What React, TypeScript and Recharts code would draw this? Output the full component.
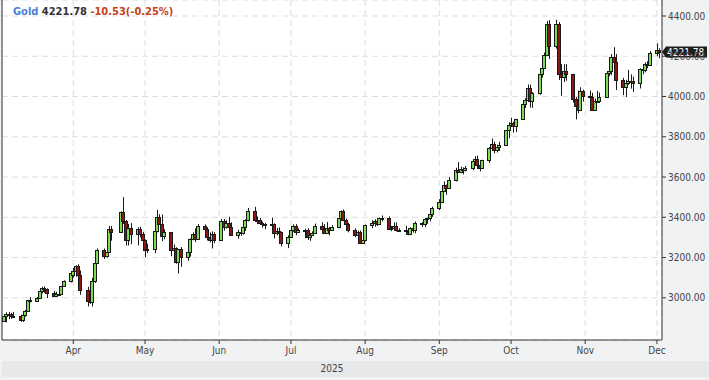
import { ComposedChart, Bar, XAxis, YAxis, CartesianGrid, ReferenceLine } from 'recharts'

// trading days, 2025 (month/day)
const dates = [
  '3/3', '3/4', '3/5', '3/6', '3/7', '3/10', '3/11', '3/12', '3/13', '3/14', '3/17', '3/18', '3/19', '3/20', '3/21', '3/24', '3/25', '3/26', '3/27', '3/28', '3/31',
  '4/1', '4/2', '4/3', '4/4', '4/7', '4/8', '4/9', '4/10', '4/11', '4/14', '4/15', '4/16', '4/17', '4/21', '4/22', '4/23', '4/24', '4/25', '4/28', '4/29', '4/30',
  '5/1', '5/2', '5/5', '5/6', '5/7', '5/8', '5/9', '5/12', '5/13', '5/14', '5/15', '5/16', '5/19', '5/20', '5/21', '5/22', '5/23', '5/26', '5/27', '5/28', '5/29', '5/30',
  '6/2', '6/3', '6/4', '6/5', '6/6', '6/9', '6/10', '6/11', '6/12', '6/13', '6/16', '6/17', '6/18', '6/19', '6/20', '6/23', '6/24', '6/25', '6/26', '6/27', '6/30',
  '7/1', '7/2', '7/3', '7/4', '7/7', '7/8', '7/9', '7/10', '7/11', '7/14', '7/15', '7/16', '7/17', '7/18', '7/21', '7/22', '7/23', '7/24', '7/25', '7/28', '7/29', '7/30', '7/31',
  '8/1', '8/4', '8/5', '8/6', '8/7', '8/8', '8/11', '8/12', '8/13', '8/14', '8/15', '8/18', '8/19', '8/20', '8/21', '8/22', '8/25', '8/26', '8/27', '8/28', '8/29',
  '9/1', '9/2', '9/3', '9/4', '9/5', '9/8', '9/9', '9/10', '9/11', '9/12', '9/15', '9/16', '9/17', '9/18', '9/19', '9/22', '9/23', '9/24', '9/25', '9/26', '9/29', '9/30',
  '10/1', '10/2', '10/3', '10/6', '10/7', '10/8', '10/9', '10/10', '10/13', '10/14', '10/15', '10/16', '10/17', '10/20', '10/21', '10/22', '10/23', '10/24', '10/27', '10/28', '10/29', '10/30', '10/31',
  '11/3', '11/4', '11/5', '11/6', '11/7', '11/10', '11/11', '11/12', '11/13', '11/14', '11/17', '11/18', '11/19', '11/20', '11/21', '11/24', '11/25', '11/26', '11/27', '11/28',
  '12/1', '12/2',
]

const opens = [
  2886, 2910, 2918, 2920, 2911, 2910, 2889, 2916, 2934, 2988, 2984, 3001, 3034, 3047, 3044, 3023, 3011, 3020, 3018, 3057, 3085,
  3115, 3135, 3158, 3114, 3037, 2982, 2980, 3083, 3175, 3237, 3210, 3230, 3343, 3327, 3424, 3381, 3288, 3349, 3319, 3343, 3317,
  3288, 3239, 3241, 3334, 3400, 3365, 3306, 3325, 3236, 3248, 3178, 3240, 3203, 3230, 3290, 3315, 3294, 3357, 3343, 3300, 3288, 3318,
  3289, 3381, 3353, 3373, 3353, 3310, 3326, 3322, 3354, 3386, 3433, 3385, 3389, 3370, 3369, 3368, 3368, 3323, 3332, 3328, 3274,
  3303, 3338, 3357, 3326, 3337, 3336, 3301, 3313, 3324, 3355, 3344, 3324, 3347, 3339, 3350, 3397, 3431, 3387, 3368, 3336, 3314, 3326, 3274,
  3289, 3363, 3373, 3380, 3369, 3397, 3398, 3342, 3348, 3356, 3335, 3336, 3332, 3315, 3347, 3339, 3371, 3365, 3393, 3397, 3416,
  3448, 3476, 3533, 3560, 3545, 3586, 3636, 3626, 3640, 3634, 3643, 3679, 3690, 3659, 3644, 3684, 3746, 3763, 3736, 3749, 3760, 3833,
  3858, 3866, 3856, 3886, 3961, 3985, 4040, 3976, 4018, 4110, 4143, 4208, 4360, 4250, 4360, 4110, 4095, 4126, 4112, 3988, 3952, 3931, 4025,
  4003, 4000, 3932, 3980, 3977, 4000, 4116, 4128, 4195, 4170, 4080, 4045, 4067, 4078, 4077, 4065, 4135, 4130, 4164, 4155,
  4218, 4232.31,
]

const highs = [
  2915, 2928, 2930, 2926, 2930, 2917, 2923, 2940, 2990, 3004, 3004, 3038, 3055, 3057, 3047, 3034, 3030, 3033, 3059, 3087, 3128,
  3149, 3162, 3167, 3136, 3055, 3023, 3099, 3176, 3245, 3245, 3231, 3357, 3357, 3430, 3500, 3387, 3367, 3371, 3351, 3353, 3328,
  3290, 3269, 3336, 3437, 3415, 3414, 3341, 3327, 3265, 3251, 3241, 3252, 3250, 3295, 3325, 3345, 3366, 3365, 3351, 3325, 3330, 3326,
  3392, 3392, 3385, 3403, 3375, 3338, 3349, 3359, 3390, 3446, 3452, 3404, 3397, 3379, 3372, 3398, 3370, 3347, 3350, 3329, 3310,
  3358, 3365, 3366, 3345, 3343, 3346, 3318, 3330, 3369, 3375, 3366, 3377, 3352, 3361, 3402, 3434, 3439, 3393, 3373, 3345, 3334, 3334, 3315,
  3364, 3385, 3390, 3390, 3400, 3409, 3404, 3357, 3374, 3375, 3345, 3358, 3345, 3350, 3351, 3379, 3376, 3394, 3398, 3423, 3453,
  3490, 3540, 3578, 3563, 3600, 3646, 3674, 3651, 3648, 3655, 3685, 3703, 3707, 3665, 3686, 3749, 3791, 3776, 3761, 3775, 3834, 3872,
  3895, 3875, 3890, 3977, 3991, 4060, 4059, 4022, 4116, 4179, 4218, 4375, 4380, 4381, 4370, 4161, 4161, 4161, 4113, 3997, 4030, 4046, 4034,
  4030, 4018, 3990, 4028, 4020, 4120, 4149, 4211, 4245, 4211, 4093, 4083, 4132, 4110, 4099, 4140, 4156, 4170, 4175, 4225,
  4264, 4240,
]

const lows = [
  2880, 2878, 2894, 2896, 2899, 2880, 2880, 2906, 2930, 2977, 2983, 2999, 3022, 3025, 2999, 3004, 3009, 3013, 3016, 3055, 3076,
  3100, 3105, 3054, 3015, 2957, 2970, 2957, 3074, 3172, 3193, 3200, 3229, 3284, 3325, 3367, 3260, 3260, 3266, 3260, 3300, 3268,
  3202, 3222, 3222, 3325, 3364, 3281, 3291, 3207, 3220, 3169, 3121, 3154, 3184, 3204, 3286, 3277, 3287, 3322, 3285, 3276, 3245, 3271,
  3288, 3334, 3344, 3338, 3307, 3293, 3308, 3314, 3332, 3380, 3382, 3366, 3362, 3348, 3341, 3347, 3295, 3311, 3317, 3255, 3247,
  3298, 3328, 3311, 3322, 3296, 3287, 3283, 3310, 3322, 3340, 3320, 3319, 3310, 3332, 3345, 3385, 3381, 3351, 3325, 3301, 3308, 3268, 3270,
  3281, 3346, 3353, 3357, 3365, 3380, 3341, 3331, 3345, 3330, 3330, 3323, 3311, 3311, 3324, 3321, 3352, 3351, 3368, 3380, 3402,
  3436, 3470, 3525, 3511, 3542, 3578, 3620, 3619, 3613, 3628, 3634, 3675, 3640, 3628, 3640, 3670, 3736, 3717, 3722, 3730, 3755, 3793,
  3849, 3820, 3823, 3884, 3943, 3980, 3945, 3944, 4008, 4094, 4141, 4201, 4186, 4238, 4082, 4004, 4072, 4078, 3970, 3886, 3917, 3929, 3975,
  3962, 3928, 3930, 3970, 3968, 3996, 4101, 4106, 4154, 4032, 4007, 3998, 4058, 4039, 4022, 4040, 4110, 4120, 4140, 4152,
  4200, 4190,
]

const closes = [
  2910, 2918, 2920, 2911, 2910, 2889, 2916, 2934, 2988, 2984, 3001, 3034, 3047, 3044, 3023, 3011, 3020, 3018, 3057, 3085, 3123,
  3135, 3158, 3114, 3037, 2982, 2980, 3083, 3175, 3237, 3210, 3230, 3343, 3327, 3424, 3381, 3288, 3349, 3319, 3343, 3317, 3288,
  3239, 3241, 3334, 3400, 3365, 3306, 3325, 3236, 3248, 3178, 3240, 3203, 3230, 3290, 3315, 3294, 3357, 3343, 3300, 3288, 3318, 3289,
  3381, 3353, 3373, 3353, 3310, 3326, 3322, 3354, 3386, 3433, 3385, 3389, 3370, 3369, 3368, 3368, 3323, 3332, 3328, 3274, 3303,
  3338, 3357, 3326, 3337, 3336, 3301, 3313, 3324, 3355, 3344, 3324, 3347, 3339, 3350, 3397, 3431, 3387, 3368, 3336, 3314, 3326, 3274, 3289,
  3363, 3373, 3380, 3369, 3397, 3398, 3342, 3348, 3356, 3335, 3336, 3332, 3315, 3347, 3339, 3371, 3365, 3393, 3397, 3416, 3448,
  3476, 3533, 3560, 3545, 3586, 3636, 3626, 3640, 3634, 3643, 3679, 3690, 3659, 3644, 3684, 3746, 3763, 3736, 3749, 3760, 3833, 3858,
  3866, 3856, 3886, 3961, 3985, 4040, 3976, 4018, 4110, 4143, 4208, 4360, 4250, 4360, 4110, 4095, 4126, 4112, 3988, 3952, 3931, 4025, 4003,
  4000, 3932, 3980, 3977, 4000, 4116, 4128, 4195, 4170, 4080, 4045, 4067, 4078, 4077, 4065, 4135, 4130, 4164, 4155, 4218,
  4232.31, 4221.78,
]

const monthTickDates = ['4/1', '5/1', '6/1', '7/1', '8/1', '9/1', '10/1', '11/1', '12/1']
const monthLabels = ['Apr', 'May', 'Jun', 'Jul', 'Aug', 'Sep', 'Oct', 'Nov', 'Dec']
const priceTicks = [3000, 3200, 3400, 3600, 3800, 4000, 4200, 4400]
const lastPrice = 4221.78

const font = "'DejaVu Sans Condensed', 'DejaVu Sans', sans-serif"

const toDay = (md: string) => {
  const [m, d] = md.split('/').map(Number)
  return Date.UTC(2025, m - 1, d) / 86400000
}

const data = dates.map((d, i) => ({
  t: toDay(d),
  open: opens[i],
  high: highs[i],
  low: lows[i],
  close: closes[i],
  range: [lows[i], highs[i]],
}))

const monthTicks = monthTickDates.map(toDay)
const xMin = toDay('3/2') + 0.2
const xMax = toDay('12/3') + 0.1

function Candle(props: any) {
  const { x, y, width, height, payload } = props
  if (!payload) return null
  const top = Math.min(y, y + height)
  const bottom = Math.max(y, y + height)
  const { open, close, high, low } = payload
  const py = (v: number) => top + ((high - v) / (high - low)) * (bottom - top)
  const cx = Math.round(x + width / 2)
  const up = close >= open
  const bTop = Math.round(py(Math.max(open, close)))
  const bBot = Math.round(py(Math.min(open, close)))
  return (
    <g>
      <line x1={cx + 0.5} x2={cx + 0.5} y1={top} y2={bottom} stroke="#1a1a1a" strokeWidth={1} />
      <rect
        x={cx - 1.5}
        y={bTop + 0.5}
        width={3}
        height={Math.max(bBot - bTop, 1)}
        fill={up ? '#7ddc55' : '#8c1616'}
        stroke="#1a1a1a"
        strokeWidth={1}
      />
    </g>
  )
}

function PriceTag(props: any) {
  const vb = props.viewBox
  if (!vb) return null
  const r = vb.x + vb.width
  const cy = Math.round(vb.y)
  return (
    <g>
      <polygon
        points={`${r},${cy} ${r + 4},${cy - 5.5} ${707},${cy - 5.5} ${707},${cy + 5.5} ${r + 4},${cy + 5.5}`}
        fill="#1e1e1e"
      />
      <text x={r + 5} y={cy + 4} fill="#fff" fontSize={10} fontFamily={font}>
        {lastPrice.toFixed(2)}
      </text>
    </g>
  )
}

export default function App() {
  return (
    <div style={{ position: 'absolute', left: 0, top: 0, width: 709, height: 380, background: '#f1f2f4' }}>
      <div
        style={{
          position: 'absolute', left: 2, top: 361, width: 707, height: 16, background: '#e7e8ea',
          fontFamily: font, fontSize: 10, color: '#444', textAlign: 'center', lineHeight: '16px',
        }}
      >
        <span style={{ position: 'absolute', left: 0, width: 660, textAlign: 'center' }}>2025</span>
      </div>
      <ComposedChart width={709} height={380} data={data} margin={{ top: 0, right: 0, bottom: 0, left: 2 }}>
        <CartesianGrid stroke="#dedede" strokeDasharray="6 4" fill="#ffffff" />
        <XAxis
          dataKey="t"
          type="number"
          domain={[xMin, xMax]}
          allowDataOverflow
          ticks={monthTicks}
          interval={0}
          tickFormatter={(v: number) => monthLabels[monthTicks.indexOf(v)] ?? ''}
          height={40}
          tickSize={4}
          tickMargin={3}
          axisLine={{ stroke: '#333' }}
          tickLine={{ stroke: '#333' }}
          tick={{ fontSize: 10, fill: '#444', fontFamily: font }}
        />
        <YAxis
          orientation="right"
          domain={[2790.4, 4479.5]}
          allowDataOverflow
          ticks={priceTicks}
          interval={0}
          tickFormatter={(v: number) => v.toFixed(2)}
          width={47}
          tickSize={4}
          tickMargin={2}
          axisLine={{ stroke: '#333' }}
          tickLine={{ stroke: '#333' }}
          tick={{ fontSize: 10, fill: '#444', fontFamily: font, textAnchor: 'start' }}
        />
        <ReferenceLine x={xMin} stroke="#333" />
        <Bar dataKey="range" barSize={4} isAnimationActive={false} shape={(p: any) => <Candle {...p} />} />
        <ReferenceLine y={lastPrice} stroke="none" label={(p: any) => <PriceTag {...p} />} />
      </ComposedChart>
      <div
        style={{
          position: 'absolute', left: 13, top: 5, fontFamily: font, fontSize: 11, fontWeight: 'bold',
          whiteSpace: 'pre',
        }}
      >
        <span style={{ color: '#4a7fd6' }}>Gold</span>
        <span style={{ color: '#333' }}> 4221.78 </span>
        <span style={{ color: '#c64119' }}>-10.53(-0.25%)</span>
      </div>
    </div>
  )
}
